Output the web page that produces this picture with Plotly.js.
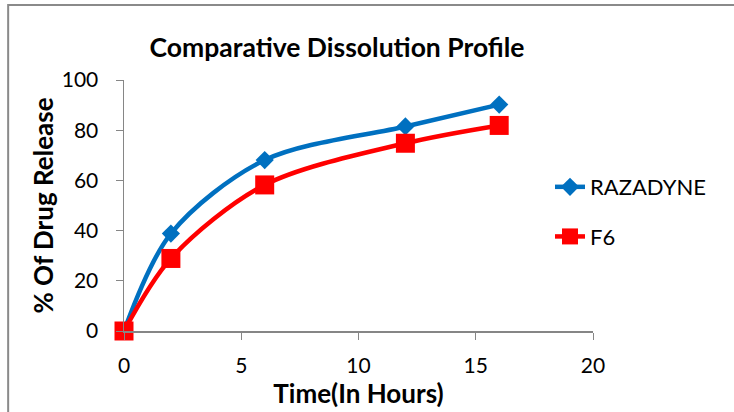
<!DOCTYPE html>
<html><head><meta charset="utf-8">
<script src="https://cdn.plot.ly/plotly-3.0.1.min.js"></script>
<style>html,body{margin:0;padding:0;background:#fff}#chart{width:734px;height:412px}</style>
</head><body><div id="chart"></div>
<script>
const timeHours = [0, 2, 6, 12, 16];
const razadyne = [0, 38.8, 68.1, 81.5, 90.2];
const f6 = [0, 28.9, 58.2, 74.8, 81.9];
const seriesNames = ['RAZADYNE', 'F6'];
const xTicks = [0, 5, 10, 15, 20];
const yTicks = [0, 20, 40, 60, 80, 100];

const font = 'Lato, "Open Sans", sans-serif';
const traces = [
  {x: timeHours, y: razadyne, name: seriesNames[0], mode: 'lines+markers', legendgroup: 'a',
   line: {color: '#0070C0', width: 4.5, shape: 'spline', smoothing: 0.9},
   marker: {symbol: 'diamond', size: 14, color: '#0070C0'}, cliponaxis: false},
  {x: timeHours, y: f6, name: seriesNames[1], mode: 'lines+markers', legendgroup: 'b',
   line: {color: '#FF0000', width: 4.5, shape: 'spline', smoothing: 0.9},
   marker: {symbol: 'square', size: 19, color: '#FF0000'}, cliponaxis: false}
];
const axisCommon = {showgrid: false, zeroline: false, showline: true, linecolor: '#868686', linewidth: 1.5,
  ticks: 'outside', ticklen: 7, tickcolor: '#868686', tickfont: {family: font, size: 21, color: '#000'}};
const layout = {
  width: 734, height: 412,
  margin: {l: 124, r: 141, t: 80, b: 81, autoexpand: false},
  paper_bgcolor: '#fff', plot_bgcolor: '#fff',
  title: {text: '<b>Comparative Dissolution Profile</b>', font: {family: font, size: 26.5, color: '#000'},
    x: 337/734, xanchor: 'center', y: 1 - 48/412, yanchor: 'middle'},
  xaxis: Object.assign({}, axisCommon, {range: [0, 20], tickvals: xTicks, ticklabelstandoff: 8,
    title: {text: '<b>Time(In Hours)</b>', font: {family: font, size: 26, color: '#000'}, standoff: 0}}),
  yaxis: Object.assign({}, axisCommon, {range: [0, 100], tickvals: yTicks, ticklabelstandoff: 13,
    title: {text: '<b>% Of Drug Release</b>', font: {family: font, size: 26, color: '#000'}, standoff: 0}}),
  legend: {x: (550-124)/469, xanchor: 'left', y: 0.474, yanchor: 'middle', traceorder: 'grouped', tracegroupgap: 18,
    font: {family: font, size: 22, color: '#000'}, itemwidth: 30, bgcolor: 'rgba(0,0,0,0)'},
  shapes: [{type: 'rect', xref: 'paper', yref: 'paper', x0: -0.247, x1: 1.5, y0: -0.5, y1: 1.299,
    line: {color: '#8a8a8a', width: 2}}]
};
Plotly.newPlot('chart', traces, layout, {displayModeBar: false, staticPlot: true});
</script></body></html>
